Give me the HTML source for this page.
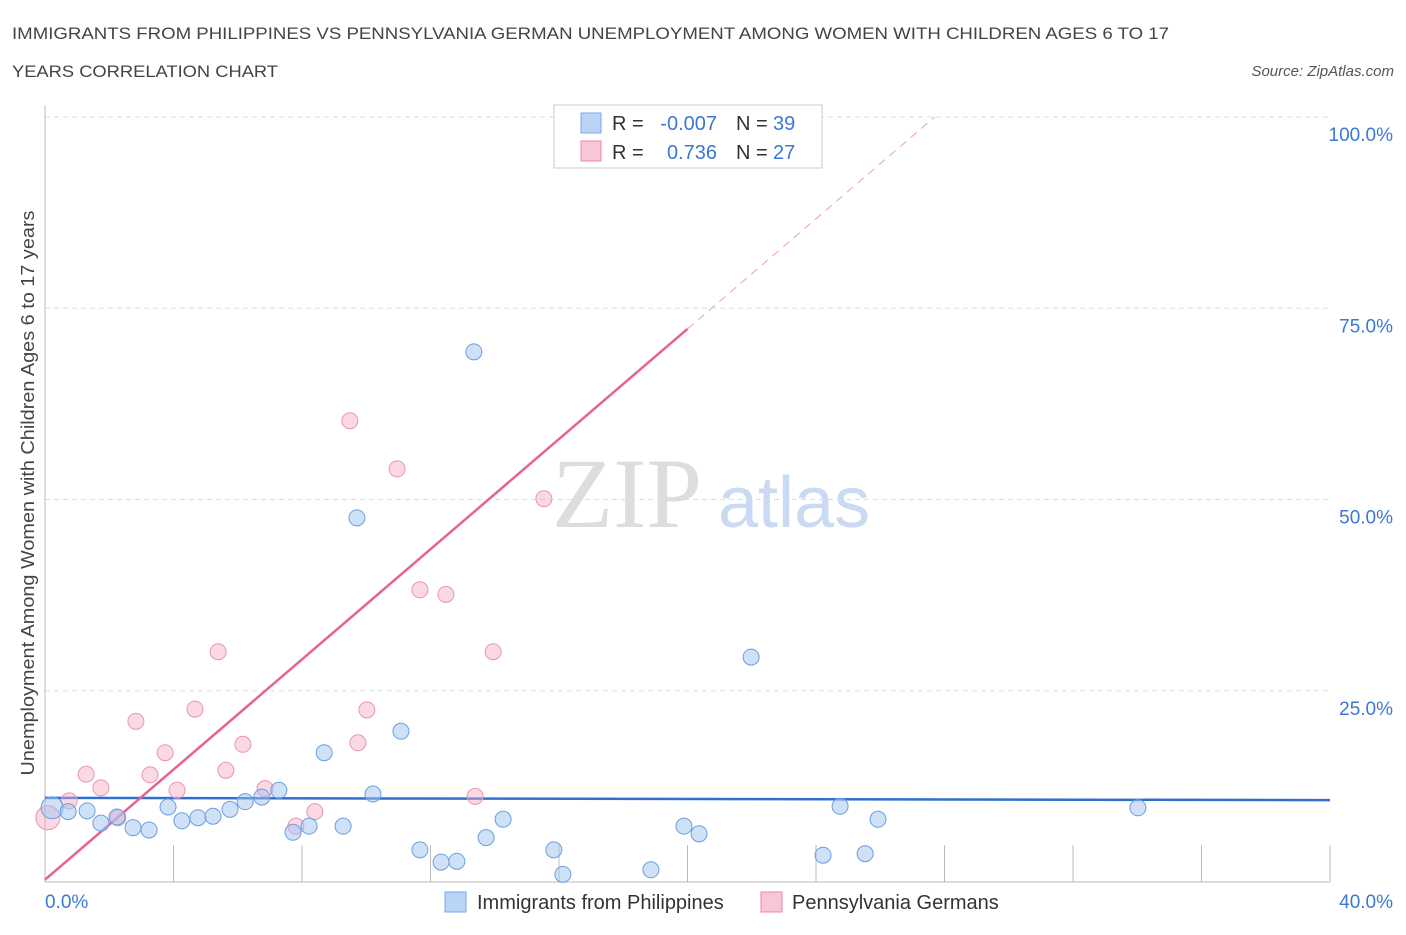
<!DOCTYPE html>
<html><head><meta charset="utf-8"><style>
body{margin:0;background:#fff;font-family:"Liberation Sans",sans-serif;}
svg text{font-family:"Liberation Sans",sans-serif;}
</style></head><body>
<svg id="c" width="1406" height="930" xmlns="http://www.w3.org/2000/svg">
<text x="12" y="39" font-size="17" fill="#444" textLength="1157" lengthAdjust="spacingAndGlyphs">IMMIGRANTS FROM PHILIPPINES VS PENNSYLVANIA GERMAN UNEMPLOYMENT AMONG WOMEN WITH CHILDREN AGES 6 TO 17</text>
<text x="12" y="77" font-size="17" fill="#444" textLength="266" lengthAdjust="spacingAndGlyphs">YEARS CORRELATION CHART</text>
<text x="1394" y="76" font-size="15" fill="#555" font-style="italic" text-anchor="end">Source: ZipAtlas.com</text>
<g>
<text x="552" y="527" font-size="100" fill="#ddd" style="font-family:'Liberation Serif',serif">ZIP</text>
<text x="718" y="527" font-size="72" fill="#c9daf2">atlas</text>
</g>
<g id="grid"></g><g id="axes"></g><g id="trend"></g><g id="pts"></g>
<text transform="translate(34,493) rotate(-90)" font-size="18" fill="#444" text-anchor="middle" textLength="565" lengthAdjust="spacingAndGlyphs">Unemployment Among Women with Children Ages 6 to 17 years</text>
<g>
<rect x="554" y="105" width="268" height="63" fill="#fff" stroke="#ccc"/>
<rect x="581" y="113" width="20" height="20" fill="#b9d4f5" stroke="#7aaae8"/>
<rect x="581" y="141" width="20" height="20" fill="#f8c6d4" stroke="#e88aa8"/>
<text x="612" y="130" font-size="20" fill="#333">R = </text><text x="717" y="130" font-size="20" fill="#3b78d6" text-anchor="end">-0.007</text>
<text x="736" y="130" font-size="20" fill="#333">N = </text><text x="773" y="130" font-size="20" fill="#3b78d6">39</text>
<text x="612" y="159" font-size="20" fill="#333">R = </text><text x="717" y="159" font-size="20" fill="#3b78d6" text-anchor="end">0.736</text>
<text x="736" y="159" font-size="20" fill="#333">N = </text><text x="773" y="159" font-size="20" fill="#3b78d6">27</text>
</g>
<g>
<rect x="445" y="892" width="21" height="20" fill="#b9d4f5" stroke="#7aaae8"/>
<text x="477" y="909" font-size="20" fill="#333">Immigrants from Philippines</text>
<rect x="761" y="892" width="21" height="20" fill="#f8c6d4" stroke="#e88aa8"/>
<text x="792" y="909" font-size="20" fill="#333">Pennsylvania Germans</text>
</g>
</svg>
<script>
const blueX=[0.22,0.72,1.31,1.74,2.24,2.74,3.24,3.83,4.26,4.76,5.23,5.76,6.23,6.75,7.28,7.72,8.22,8.69,9.28,9.71,10.21,11.08,11.67,12.33,12.82,13.35,13.73,14.26,15.84,16.12,18.86,19.89,20.36,21.98,24.22,24.75,25.53,25.93,34.02];
const blueY=[9.7,9.2,9.3,7.7,8.5,7.1,6.8,9.8,8.0,8.4,8.6,9.5,10.5,11.1,12.0,6.5,7.3,16.9,7.3,47.6,11.5,19.7,4.2,2.6,2.7,69.3,5.8,8.2,4.2,1.0,1.6,7.3,6.3,29.4,3.5,9.9,3.7,8.2,9.7];
const pinkX=[0.09,0.75,1.28,1.74,2.27,2.83,3.27,3.74,4.11,4.67,5.39,5.63,6.16,6.85,7.81,8.40,9.49,9.74,10.02,10.96,11.67,12.48,13.39,13.95,15.53,16.16,18.80];
const pinkY=[8.4,10.6,14.1,12.3,8.4,21.0,14.0,16.9,12.0,22.6,30.1,14.6,18.0,12.2,7.3,9.2,60.3,18.2,22.5,54.0,38.2,37.6,11.2,30.1,50.1,100,100];
const blueTrend=[11.0,10.7];
const pinkTrend=[0.3,3.6];
const yTicks=[25,50,75,100];
const yTickLabels=["25.0%","50.0%","75.0%","100.0%"];
const xTicks=[0,4,8,12,16,20,24,28,32,36,40];
const NS="http://www.w3.org/2000/svg";
const X=v=>45+v*32.125, Y=v=>882-v*7.65;
function mk(p,t,a){const e=document.createElementNS(NS,t);for(const k in a)e.setAttribute(k,a[k]);document.getElementById(p).appendChild(e);return e;}
yTicks.forEach((t,i)=>{
 const l=mk('grid','line',{x1:45,x2:1330,y1:Y(t),y2:Y(t),stroke:'#ddd','stroke-dasharray':'5,4'});
 
 
 const tx=mk('grid','text',{x:1393,y:Y(t)+24,'font-size':19,fill:'#3b78d6','text-anchor':'end'});
 tx.textContent=yTickLabels[i];
 
 
});
const ax=mk('axes','line',{x1:45,x2:1330,y1:882,y2:882,stroke:'#bbb'});


const ay=mk('axes','line',{x1:45,x2:45,y1:105,y2:882,stroke:'#bbb'});


xTicks.forEach(t=>{
 if(t===0)return;
 const l=mk('axes','line',{x1:X(t),x2:X(t),y1:845,y2:882,stroke:'#bbb'});
 
 
});
const xl0=mk('axes','text',{x:45,y:908,'font-size':19,fill:'#3b78d6'});xl0.textContent='0.0%';


const xl1=mk('axes','text',{x:1393,y:908,'font-size':19,fill:'#3b78d6','text-anchor':'end'});xl1.textContent='40.0%';


const bt=mk('trend','line',{x1:X(0),y1:Y(blueTrend[0]),x2:X(40),y2:Y(blueTrend[1]),stroke:'#2f6fd0','stroke-width':2.5});


const pEnd=20, pMax=(100-pinkTrend[0])/pinkTrend[1];
const pt=mk('trend','line',{x1:X(0),y1:Y(pinkTrend[0]),x2:X(pEnd),y2:Y(pinkTrend[0]+pinkTrend[1]*pEnd),stroke:'#e8628f','stroke-width':2.5});


const pd=mk('trend','line',{x1:X(pEnd),y1:Y(pinkTrend[0]+pinkTrend[1]*pEnd),x2:X(pMax),y2:Y(100),stroke:'#e8a0b8','stroke-width':1,'stroke-dasharray':'8,6'});


pinkX.forEach((x,i)=>{
 const c=mk('pts','circle',{cx:X(x),cy:Y(pinkY[i]),r:i===0?12:8,fill:'rgba(245,170,195,0.45)',stroke:'#e896b0','stroke-width':1});
 
 
});
blueX.forEach((x,i)=>{
 const c=mk('pts','circle',{cx:X(x),cy:Y(blueY[i]),r:i===0?11:8,fill:'rgba(160,195,240,0.5)',stroke:'#6b9fe0','stroke-width':1});
 
 
});
</script>
</body></html>
